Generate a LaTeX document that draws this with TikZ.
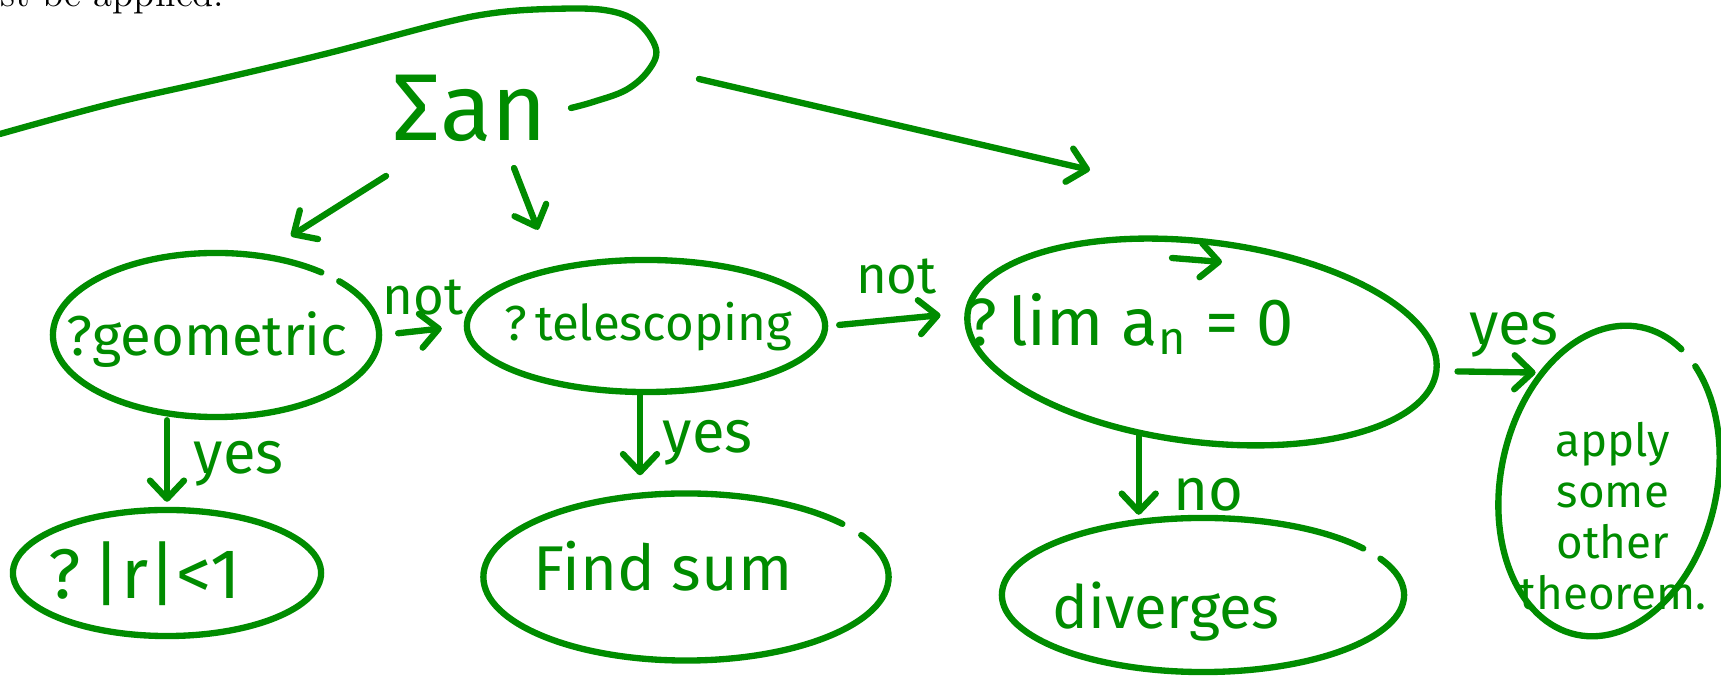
\documentclass[tikz,border=0pt]{standalone}
\usepackage{fontspec}
\newfontfamily\handfont{Fira Sans}
\usetikzlibrary{shapes.geometric,arrows.meta}
\definecolor{pen}{RGB}{0,140,0}

\begin{document}
\begin{tikzpicture}[x=0.01cm, y=-0.01cm, line width=1.8pt,
  every node/.style={text=pen},
  ink/.style={draw=pen, line cap=round, line join=round},
  bubble/.style={ink, ellipse, inner sep=0pt},
  arr/.style={ink, -{Straight Barb[round, length=1.8mm, width=3.4mm]}},
  hand/.style={font=\handfont\fontsize{#1}{#1}\selectfont}]
  \useasboundingbox (0,0) rectangle (1721,680);

  % text cut off at the top of the page
  \node[anchor=base west, inner sep=0pt, text=black,
        font=\fontsize{11}{13}\selectfont] (cuttext) at (-3,7) {st be applied.};

  % the series
  \node[hand=27] (sigma) at (470,108) {Σan};
  \coordinate (loopstart) at (0,134);
  \draw[ink] plot[smooth, tension=0.6] coordinates {(loopstart) (110,104) (220,79)
    (329,53) (439,24) (494,13) (549,9) (604,10) (637,22) (656,49) (648,71)
    (626,90) (593,102) (571,108)};

  % the tests (the gaps are where the pen lifted)
  \node[bubble, minimum width=3.26cm, minimum height=1.64cm,
        dash pattern=on 0.7cm off 0.2cm on 20cm] (geo) at (216,335) {};
  \node[bubble, minimum width=3.58cm, minimum height=1.32cm] (tele) at (646,326) {};
  \node[bubble, minimum width=4.72cm, minimum height=2.0cm, rotate=-7] (lim) at (1202,342) {};
  \node[bubble, minimum width=3.08cm, minimum height=1.26cm] (abs) at (167,573) {};
  \node[bubble, minimum width=4.05cm, minimum height=1.67cm,
        dash pattern=on 0.52cm off 0.22cm on 20cm] (sum) at (686,577) {};
  \node[bubble, minimum width=4.02cm, minimum height=1.54cm,
        dash pattern=on 0.45cm off 0.2cm on 20cm] (div) at (1203,595) {};
  \node[bubble, minimum width=2.16cm, minimum height=3.14cm, rotate=-12,
        dash pattern=on 1.42cm off 0.22cm on 20cm] (apply) at (1609,481) {};

  \node[hand=16] (geotxt) at (207,340) {?geometric};
  \node[hand=14] (teletxt) at (648,327) {?\,telescoping};
  \node[hand=19] (limtxt) at (1130,324) {?\,lim a\textsubscript{n} = 0};
  \node[hand=20] (abstxt) at (145,574) {?\,|r|<1};
  \node[hand=18] (sumtxt) at (663,566) {Find sum};
  \node[hand=17] (divtxt) at (1166,612) {diverges};
  \node[align=center, font=\handfont\fontsize{13}{14.5}\selectfont] (applytxt) at (1613,516)
    {apply\\some\\other\\theorem.};

  % arrows
  \draw[arr] ([shift={(-84,68)}]sigma.center) -- ([shift={(75,-99)}]geo.center);
  \draw[arr] ([shift={(44,60)}]sigma.center) -- ([shift={(-108,-27)}]tele.north);
  \coordinate (farstart) at (699,79);
  \coordinate (farend) at (1090,170);
  \draw[arr] (farstart) -- (farend);
  \coordinate (tickA) at (1172,258);
  \coordinate (tickB) at (1222,262);
  \draw[arr] (tickA) -- (tickB);

  \draw[arr, shorten <=0.16cm, shorten >=0.22cm] (geo.east) -- node[above, hand=15] (not1) {not} (tele.west);
  \draw[arr, shorten <=0.11cm, shorten >=0.24cm] (tele.east) -- node[above=0.1cm, hand=15] (not2) {not} (lim.west);
  \draw[arr, shorten <=0.18cm, shorten >=0.03cm] (lim.east) -- node[above, pos=0.75, hand=17] (yes3) {yes} (apply.135);
  \draw[arr, shorten >=0.05cm] (geo.south -| abs.north) -- node[right=0.12cm, hand=17] (yes1) {yes} (abs.north);
  \draw[arr, shorten >=0.15cm] ([xshift=-0.06cm]tele.south) -- node[right=0.08cm, hand=17] (yes2) {yes} ([xshift=-0.06cm]tele.south |- sum.north);
  \draw[arr] (lim.243) -- node[right=0.2cm, pos=0.75, hand=17] (no) {no} (lim.243 |- div.north);
\end{tikzpicture}
\end{document}
